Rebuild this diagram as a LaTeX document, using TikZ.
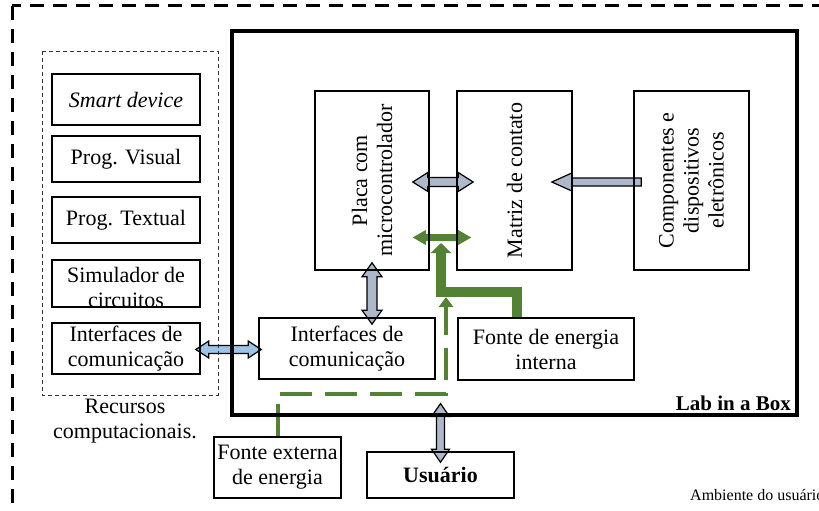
\documentclass[tikz,border=0pt]{standalone}
\usepackage{fontspec}
\setmainfont{Liberation Serif}
\usetikzlibrary{calc,arrows.meta,backgrounds}

\definecolor{cinzaazul}{RGB}{173,185,202}
\definecolor{azulclaro}{RGB}{157,195,230}
\definecolor{verde}{RGB}{84,130,53}

\tikzset{
	caixa/.style={draw,line width=1.6pt,inner sep=0pt,align=center},
	setadupla/.style n args={3}{to path={
		let \p1=($(\tikztotarget)-(\tikztostart)$),
		\n1={veclen(\x1,\y1)}, \n2={atan2(\y1,\x1)} in
		{[shift={(\tikztostart)},rotate=\n2]
		(0pt,0pt) -- (#1,#2) -- (#1,#3) -- ({\n1*1pt-#1},#3)
		-- ({\n1*1pt-#1},#2) -- ({\n1*1pt},0pt) -- ({\n1*1pt-#1},-#2)
		-- ({\n1*1pt-#1},-#3) -- (#1,-#3) -- (#1,-#2) -- cycle}}},
	setasimples/.style n args={3}{to path={
		let \p1=($(\tikztotarget)-(\tikztostart)$),
		\n1={veclen(\x1,\y1)}, \n2={atan2(\y1,\x1)} in
		{[shift={(\tikztostart)},rotate=\n2]
		(0pt,#3) -- ({\n1*1pt-#1},#3) -- ({\n1*1pt-#1},#2)
		-- ({\n1*1pt},0pt) -- ({\n1*1pt-#1},-#2)
		-- ({\n1*1pt-#1},-#3) -- (0pt,-#3) -- cycle}}},
}

\begin{document}
\begin{tikzpicture}[x=1pt,y=-1pt,font=\fontsize{22}{25}\selectfont]

\def\largura{819}
\def\altura{511}

\useasboundingbox (0,0) rectangle (\largura,\altura);
\clip (0,0) rectangle (\largura,\altura);

\draw[line width=3pt,dash pattern=on 14pt off 9pt] (12,6) rectangle (880,580);

\draw[line width=0.9pt,color=black!80,dash pattern=on 4pt off 3pt]
	(42,51) rectangle (218,395);

\node (lab) at (514.5,223)
	[draw,line width=3.2pt,inner sep=0pt,minimum width=565,minimum height=384] {};

\node (smart) at (126,99.5) [caixa,minimum width=148,minimum height=51]
	{\itshape Smart device};
\node (visual) at (126,159) [caixa,minimum width=148,minimum height=46]
	{Prog. Visual};
\node (textual) at (126,220) [caixa,minimum width=148,minimum height=46]
	{Prog. Textual};
\node (simulador) at (126,283.5) [caixa,minimum width=148,minimum height=47] {};
\node (simuladortxt) at ($(simulador)+(0,4)$) [align=center,inner sep=0pt]
	{Simulador de\\circuitos};
\node (icomp) at (126,348.5) [caixa,minimum width=148,minimum height=51]
	{Interfaces de\\comunicação};
\node (recursos) at (125,421) [align=center,inner sep=0pt]
	{Recursos\\computacionais.};

\node (placa) at (372,180.5) [caixa,minimum width=114,minimum height=179] {};
\node (placatxt) at (placa) [rotate=90,align=center]
	{Placa com\\microcontrolador};
\node (matriz) at (514.5,180.5) [caixa,minimum width=115,minimum height=179] {};
\node (matriztxt) at (matriz) [rotate=90] {Matriz de contato};
\node (comp) at (691.5,180.5) [caixa,minimum width=115,minimum height=179] {};
\node (comptxt) at (comp) [rotate=90,align=center]
	{Componentes e\\dispositivos\\eletrônicos};

\node (intcom) at (347,348.5) [caixa,minimum width=176,minimum height=61]
	{Interfaces de\\comunicação};
\node (interna) at (546,349) [caixa,minimum width=176,minimum height=62]
	{Fonte de energia\\interna};
\node (externa) at (277.5,467.5) [caixa,minimum width=127,minimum height=61]
	{Fonte externa\\de energia};
\node (usuario) at (440.5,475) [caixa,minimum width=147,minimum height=46]
	{\bfseries Usuário};

\node (labtxt) at (791,410) [anchor=base east,inner sep=0pt,
	font=\fontsize{21}{25}\selectfont\bfseries] {Lab in a Box};
\node (ambiente) at (690,500) [anchor=base west,inner sep=0pt,
	font=\fontsize{16}{18}\selectfont] {Ambiente do usuário};

\coordinate (chegada) at (441,243);
\coordinate (chegadaext) at (446,297);

\begin{pgfonlayer}{background}
\draw[line width=1.2pt,fill=cinzaazul,setadupla={15pt}{9.5pt}{4.5pt}]
	($(placa.east)+(-17,1.5)$) to ($(matriz.west)+(17,1.5)$);
\fill[verde,setadupla={13pt}{7.5pt}{3.5pt}]
	($(placa.east)+(-17,57)$) to ($(matriz.west)+(15,57)$);
\draw[line width=1.2pt,fill=cinzaazul,setasimples={20pt}{9pt}{4pt}]
	($(comp.west)+(8,1.5)$) to ($(matriz.east)+(-21,1.5)$);
\draw[line width=1.2pt,fill=cinzaazul,setadupla={14pt}{10pt}{5pt}]
	($(placa.south)+(0,-8)$) to ($(placa.south |- intcom.north)+(0,7)$);
\draw[line width=1.2pt,fill=azulclaro,setadupla={13pt}{8.5pt}{4pt}]
	($(icomp.east)+(-5,1)$) to ($(intcom.west)+(3,1)$);
\draw[line width=1.2pt,fill=cinzaazul,setadupla={13pt}{9pt}{4pt}]
	($(usuario.north)+(0,11)$) to ($(usuario.north |- lab.south)+(0,-13)$);

\draw[verde,line width=10pt,-{Triangle[width=20pt,length=10pt]}]
	([xshift=-29pt]interna.north) |- ($(chegada)+(0,49)$) -- (chegada);
\draw[verde,line width=4pt,dash pattern=on 32pt off 13pt,
	-{Triangle[width=14pt,length=10pt]}]
	(externa.north) |- ($(chegadaext)+(0,97)$) -- (chegadaext);
\end{pgfonlayer}

\end{tikzpicture}
\end{document}
